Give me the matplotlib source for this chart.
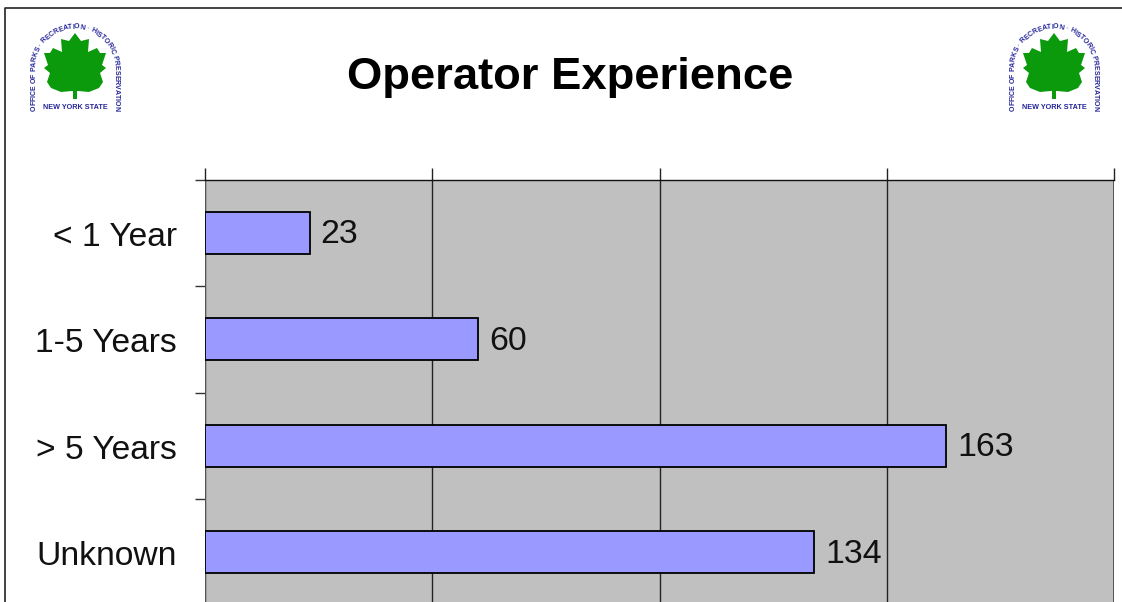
import math
import matplotlib
matplotlib.use("Agg")
import matplotlib.pyplot as plt
from matplotlib.patches import Polygon
from matplotlib.font_manager import FontProperties
from matplotlib.textpath import TextToPath

categories = ["< 1 Year", "1-5 Years", "> 5 Years", "Unknown"]
values = [23, 60, 163, 134]
title = "Operator Experience"

W, H = 1122, 602
plt.rcParams["font.family"] = ["Liberation Sans", "DejaVu Sans"]
fig = plt.figure(figsize=(W / 100, H / 100), dpi=100, facecolor="white")

# chart axes (extends slightly below the cropped picture)
L, R, T, B = 205, 1114, 179.5, 605.5
ax = fig.add_axes([L / W, (H - B) / H, (R - L) / W, (B - T) / H], facecolor="#c0c0c0")
y = list(range(len(categories)))
ax.barh(y, values, height=0.395, color="#9999ff", edgecolor="black", linewidth=1.3, zorder=3)
ax.set_xlim(0, 200)
ax.set_ylim(3.5, -0.5)
ax.set_xticks([0, 50, 100, 150, 200])
ax.xaxis.tick_top()
ax.tick_params(axis="x", length=8.5, width=1, color="#222222", labeltop=False)
ax.grid(axis="x", color="#222222", linewidth=1, zorder=1)
ax.set_yticks([i - 0.5 for i in y] + [3.5])
ax.tick_params(axis="y", length=7.5, width=1, color="#333333", labelleft=False)
for s in ["left", "right", "bottom"]:
    ax.spines[s].set_visible(False)
ax.spines["top"].set_linewidth(1)
ax.spines["top"].set_color("#111111")
ax.axvline(0, color="#555555", linewidth=1.4, zorder=2)
ax.axvline(200, color="#555555", linewidth=1.4, zorder=2)

for i, (c, v) in enumerate(zip(categories, values)):
    ax.annotate(c, (0, i), xytext=(-20, -3.4), textcoords="offset points", ha="right", va="center",
                fontsize=24.2, color="#111111", annotation_clip=False)
    ax.annotate(str(v), (v, i), xytext=(8.0, -1.5), textcoords="offset points", ha="left", va="center",
                fontsize=24.4, color="#111111", zorder=5)

# overlay in pixel coordinates for frame, title, logos
ov = fig.add_axes([0, 0, 1, 1], facecolor="none")
ov.set_xlim(0, W)
ov.set_ylim(H, 0)
ov.axis("off")
ov.plot([5.5, 5.5, W], [H, 8, 8], color="#222222", linewidth=1.2)
ov.text(570, 77.5, title, ha="center", va="center", fontsize=32.7, fontweight="bold", color="black")

leaf_half = [(0, 33), (6, 41), (14, 39), (13, 52), (22, 48), (25, 53), (31, 53), (27, 65),
             (31, 68), (25, 73), (28, 82), (24, 88), (14, 92), (3, 91), (2, 91), (2, 99)]
NAVY = "#24249a"
ARC_TEXT = "OFFICE OF PARKS · RECREATION · HISTORIC PRESERVATION"
ARC_FONT = FontProperties(family="Liberation Sans", weight="bold", size=5.0)
_ttp = TextToPath()


def advance(ch):
    w, _, _ = _ttp.get_text_width_height_descent(ch, ARC_FONT, ismath=False)
    return w


def logo(cx):
    pts = [(cx + a, b) for a, b in leaf_half] + [(cx - a, b) for a, b in reversed(leaf_half)]
    ov.add_patch(Polygon(pts, closed=True, facecolor="#0b9a0b", edgecolor="none"))
    r, cy, bot = 41, 68, 111
    side = bot - cy
    total = 2 * side + math.pi * r
    widths = [advance(ch) for ch in ARC_TEXT]
    scale = total / sum(widths)
    pos = 0.0
    for ch, w in zip(ARC_TEXT, widths):
        s = pos + 0.5 * w * scale
        pos += w * scale
        if s < side:
            px, py, rot = cx - r, bot - s, 90
        elif s < side + math.pi * r:
            a = (s - side) / r
            px, py = cx - r * math.cos(a), cy - r * math.sin(a)
            rot = 90 - math.degrees(a)
        else:
            px, py, rot = cx + r, cy + (s - side - math.pi * r), -90
        ov.text(px, py, ch, ha="center", va="center", rotation=rot, rotation_mode="anchor",
                fontproperties=ARC_FONT, color=NAVY)
    ov.text(cx, 107.5, "NEW YORK STATE", ha="center", va="center", fontsize=5.2,
            color=NAVY, fontweight="bold")


logo(75)
logo(1054)

fig.savefig("out.png", dpi=100)
